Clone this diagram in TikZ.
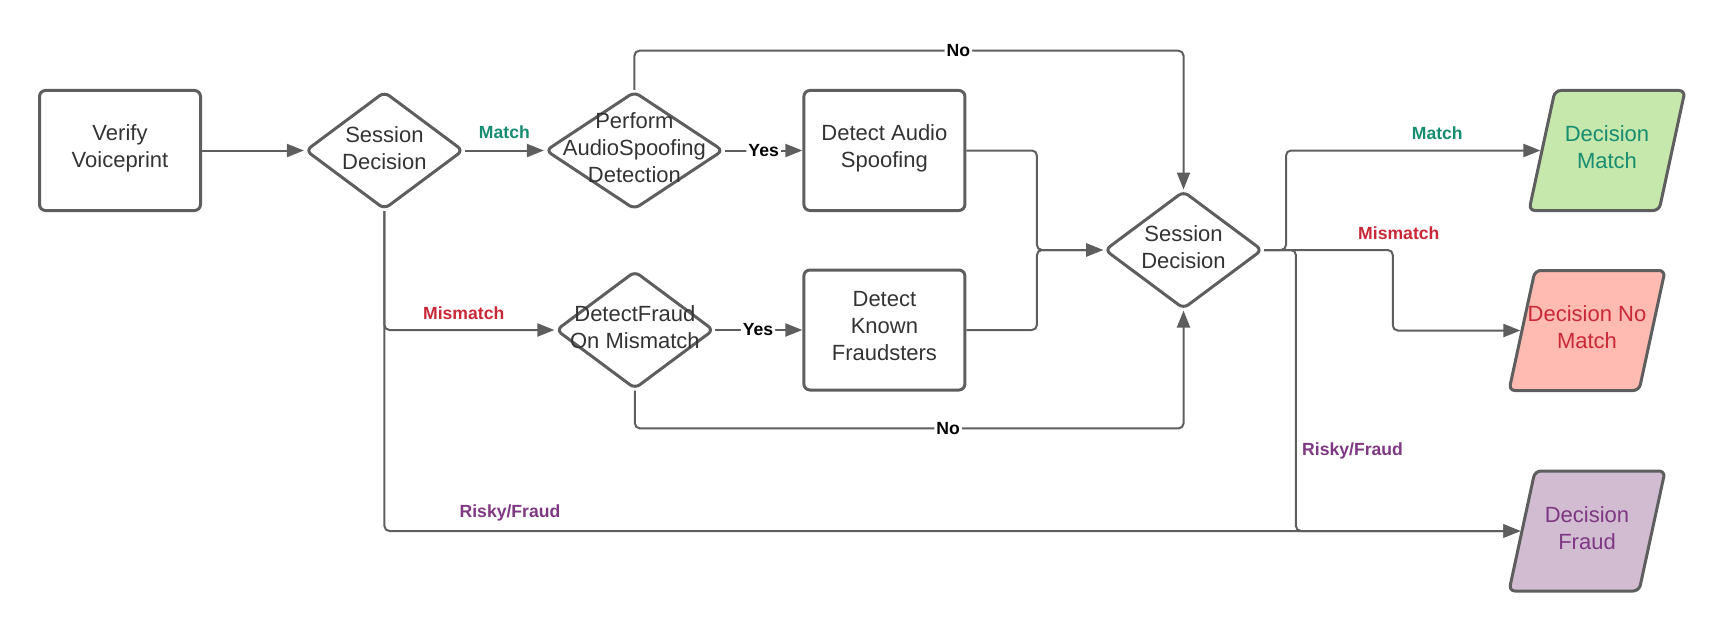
\documentclass[tikz,border=0pt]{standalone}
\usepackage{fontspec}
\setmainfont{Liberation Sans}
\usetikzlibrary{shapes.geometric,arrows.meta}
\definecolor{linegray}{RGB}{94,94,94}
\definecolor{textgray}{RGB}{51,51,51}
\definecolor{matchgreen}{RGB}{22,140,112}
\definecolor{mismatchred}{RGB}{201,40,55}
\definecolor{fraudpurple}{RGB}{126,55,130}
\definecolor{matchfill}{RGB}{199,232,172}
\definecolor{nomatchfill}{RGB}{255,186,177}
\definecolor{fraudfill}{RGB}{209,188,210}

\begin{document}
\begin{tikzpicture}[x=0.5pt,y=-0.5pt,
  box/.style={draw=linegray,line width=1.5pt,rounded corners=3pt,minimum width=80.5pt,
    minimum height=60pt,align=center,text=textgray,text depth=4.5pt,
    font=\fontsize{11}{13.5}\selectfont},
  dec/.style={diamond,draw=linegray,line width=1.5pt,rounded corners=3pt,inner sep=0pt,
    minimum width=79pt,minimum height=59pt},
  dectext/.style={align=center,text=textgray,yshift=1.3pt,font=\fontsize{11}{13.5}\selectfont},
  outbox/.style={trapezium,trapezium left angle=76,trapezium right angle=104,
    trapezium stretches=true,draw=linegray,line width=1.5pt,rounded corners=3pt,
    minimum width=78pt,minimum height=60pt},
  outtext/.style={align=center,yshift=1.5pt,font=\fontsize{11}{13.5}\selectfont},
  conn/.style={draw=linegray,line width=1pt,rounded corners=2.5pt,
    -{Triangle[length=8.5pt,width=6.5pt]}},
  lbl/.style={font=\fontsize{8.8}{10}\selectfont\bfseries,inner sep=1pt},
]
  \useasboundingbox (0,0) rectangle (1727,631);
  % main row
  \node[box] (verify) at (120,150.5) {Verify\\Voiceprint};
  \node[dec,label={[dectext]center:Session\\Decision}] (sd1) at (384.4,150.5) {};
  \node[dec,minimum width=89pt,label={[dectext]center:Perform\\AudioSpoofing\\Detection}] (spoofq) at (634.4,150.5) {};
  \node[box] (audio) at (884.4,150.5) {Detect Audio\\Spoofing};
  % mismatch row
  \node[dec,label={[dectext]center:DetectFraud\\On Mismatch}] (fraudq) at (634.9,330) {};
  \node[box] (known) at (884.4,330) {Detect\\Known\\Fraudsters};
  % second decision
  \node[dec,label={[dectext]center:Session\\Decision}] (sd2) at (1183.5,250) {};
  % outcomes
  \node[outbox,fill=matchfill,label={[outtext,text=matchgreen]center:Decision\\Match}] (dmatch) at (1607,150.5) {};
  \node[outbox,fill=nomatchfill,label={[outtext,text=mismatchred]center:Decision No\\Match}] (dnomatch) at (1587,330.5) {};
  \node[outbox,fill=fraudfill,label={[outtext,text=fraudpurple]center:Decision\\Fraud}] (dfraud) at (1587,531) {};

  % connectors
  \draw[conn] (verify) -- (sd1);
  \draw[conn] (sd1) -- (spoofq);
  \draw[conn] (spoofq) -- node[lbl,fill=white] (yes1) {Yes} (audio);
  \draw[conn] (spoofq.north) -- (spoofq.north |- 0,50.7)
    -- node[lbl,fill=white,pos=0.59] (no1) {No} (sd2.north |- 0,50.7) -- (sd2.north);
  \draw[conn] (sd1.south) |- (fraudq.west);
  \draw[conn] (sd1.south) |- (dfraud.west);
  \draw[conn] (fraudq) -- node[lbl,fill=white,pos=0.49] (yes2) {Yes} (known);
  \draw[conn] (fraudq.south) -- (fraudq.south |- 0,428.4)
    -- node[lbl,fill=white,pos=0.571] (no2) {No} (sd2.south |- 0,428.4) -- (sd2.south);
  \draw[conn] (audio.east) -- ++(70.5,0) |- (sd2.west);
  \draw[conn] (known.east) -- ++(70.5,0) |- (sd2.west);
  \draw[conn] (sd2.east) -- ++(22,0) |- (dmatch.west);
  \draw[conn] (sd2.east) -- ++(128.8,0) |- (dnomatch.west);
  \draw[conn] (sd2.east) -- ++(31.9,0) |- (dfraud.west);

  % edge labels
  \node[lbl,text=matchgreen] (match1) at (504.4,132.2) {Match};
  \node[lbl,text=mismatchred] (mismatch1) at (463.7,312.8) {Mismatch};
  \node[lbl,text=fraudpurple] (risky1) at (510,513.2) {Risky/Fraud};
  \node[lbl,text=matchgreen] (match2) at (1437.3,133.3) {Match};
  \node[lbl,text=mismatchred] (mismatch2) at (1398.8,233.5) {Mismatch};
  \node[lbl,text=fraudpurple] (risky2) at (1352.5,450.5) {Risky/Fraud};
\end{tikzpicture}
\end{document}
